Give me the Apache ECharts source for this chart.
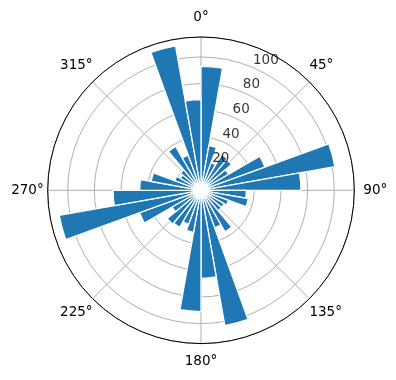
<!DOCTYPE html>
<html>
<head>
<meta charset="utf-8">
<script src="https://cdn.jsdelivr.net/npm/echarts@6/dist/echarts.min.js"></script>
<style>
html,body{margin:0;padding:0;background:#fff;}
#chart{width:396px;height:380px;}
</style>
</head>
<body>
<div id="chart"></div>
<script>
// Direction sectors (degrees, clockwise from north), 10-degree bins
const sectors = [0,10,20,30,40,50,60,70,80,90,100,110,120,130,140,150,160,170,
                 180,190,200,210,220,230,240,250,260,270,280,290,300,310,320,330,340,350];
// Bar lengths per sector
const values = [93,34,22,31,30,24,51,102,75,34,36,22,20,20,36,30,103,66,
                91,32,27,32,33,25,49,108,66,46,38,21,18,20,38,28,110,68];
// Angular tick labels (degrees)
const angleTicks = [0,45,90,135,180,225,270,315];
// Radial tick labels
const radialTicks = [20,40,60,80,100];
const radialLabelAngle = 22.5;
const rMax = 115;

const chart = echarts.init(document.getElementById('chart'), null, {renderer:'canvas'});
const FONT = 'DejaVu Sans';
const FS = 13.5;
const center = [201, 190.3];
const radius = 153.3;

function angleLabel(v) {
  if (angleTicks.indexOf(v) < 0) return '';
  const t = v + '°';
  if (v === 0) return '{t|' + t + '}';
  if (v === 180) return '{b|' + t + '}';
  if (v === 90) return '{r|' + t + '}';
  if (v === 270) return '{l|' + t + '}';
  if (v === 45 || v === 315) return '{dt|' + t + '}';
  return '{db|' + t + '}';
}
const rs = {color:'#000', fontFamily: FONT, fontSize: FS};

const option = {
  animation: false,
  backgroundColor: '#fff',
  polar: [
    {center: center, radius: radius},
    {center: center, radius: radius}
  ],
  angleAxis: [
    { // bars
      polarIndex: 0, type: 'category', data: sectors.map(String),
      startAngle: 90, clockwise: true,
      axisLine:{show:false}, axisTick:{show:false}, axisLabel:{show:false}, splitLine:{show:false}
    },
    { // grid + labels
      polarIndex: 1, type: 'value', min: 0, max: 360, interval: 45,
      startAngle: 90, clockwise: true,
      axisLine:{show:true, lineStyle:{color:'#000', width:1}},
      axisTick:{show:false},
      axisLabel:{show:true, margin: 0, color:'#000', fontFamily: FONT, fontSize: FS,
        formatter: angleLabel,
        rich: {
          t: Object.assign({padding:[0,0,13,0]}, rs),
          b: Object.assign({padding:[11,0,0,0]}, rs),
          r: Object.assign({padding:[0,0,0,9]}, rs),
          l: Object.assign({padding:[0,4,0,0]}, rs),
          dt: Object.assign({padding:[0,0,9,0]}, rs),
          db: Object.assign({padding:[7,0,0,0]}, rs)
        }},
      splitLine:{show:true, lineStyle:{color:'#b0b0b0', width:1}}
    }
  ],
  radiusAxis: [
    {polarIndex: 0, min: 0, max: rMax,
     axisLine:{show:false}, axisTick:{show:false}, axisLabel:{show:false}, splitLine:{show:false}},
    {polarIndex: 1, min: 0, max: rMax, interval: 20,
     axisLine:{show:false}, axisTick:{show:false}, axisLabel:{show:false},
     splitLine:{show:true, lineStyle:{color:'#b0b0b0', width:1}}}
  ],
  series: [{
    type: 'bar',
    coordinateSystem: 'polar',
    polarIndex: 0,
    data: values,
    barCategoryGap: '0%',
    itemStyle: {color: '#1f77b4', borderColor: '#ffffff', borderWidth: 1.3},
    z: 3
  }, {
    // radial tick labels, placed through the polar scales
    type: 'scatter',
    coordinateSystem: 'polar',
    polarIndex: 1,
    data: radialTicks.map(v => [v, radialLabelAngle]),
    symbol: 'circle',
    symbolSize: 0.01,
    itemStyle: {color: 'rgba(0,0,0,0)'},
    silent: true,
    z: 6,
    label: {
      show: true, position: [0, 0], offset: [1, 0],
      align: 'left', verticalAlign: 'bottom',
      color: '#000', fontFamily: FONT, fontSize: FS,
      formatter: p => String(p.value[0])
    }
  }]
};
chart.setOption(option);
</script>
</body>
</html>
